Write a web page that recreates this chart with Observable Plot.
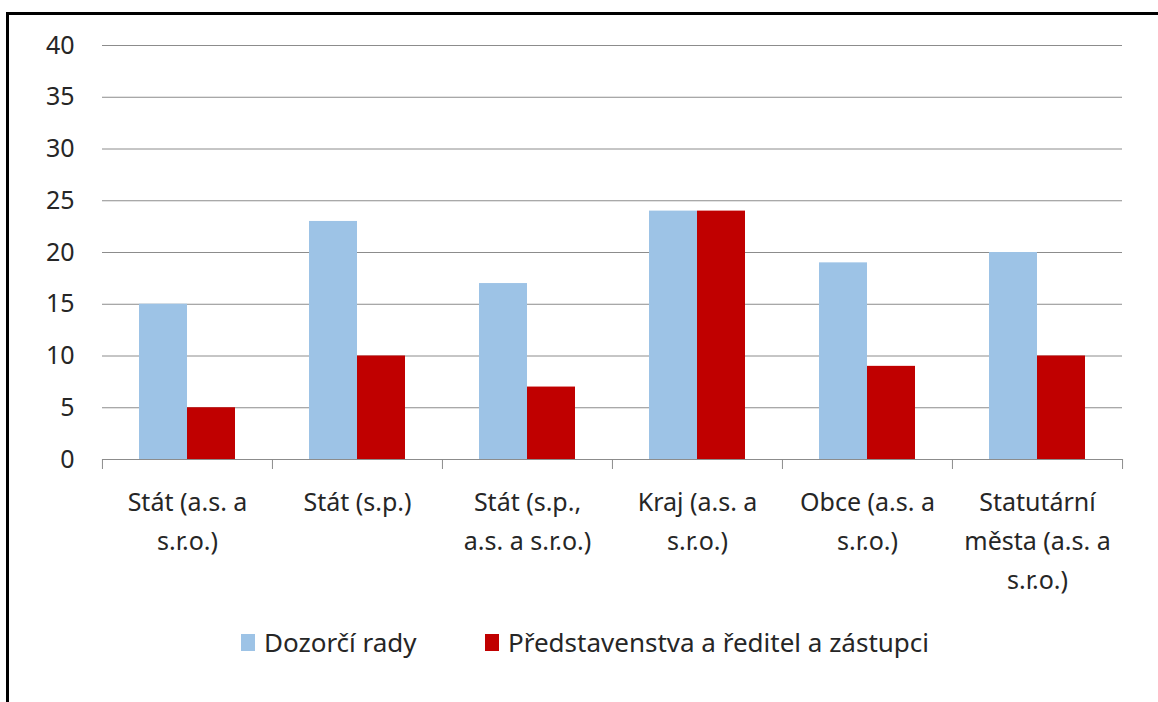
<!DOCTYPE html>
<html><head><meta charset="utf-8">
<script src="https://cdn.jsdelivr.net/npm/d3@7"></script>
<script src="https://cdn.jsdelivr.net/npm/@observablehq/plot@0.6"></script>
<style>
html,body{margin:0;padding:0;background:#fff;}
#wrap{position:relative;width:1158px;height:702px;overflow:hidden;font-family:"Noto Sans","Open Sans",sans-serif;color:#262626;}
#frame{position:absolute;left:6px;top:12px;width:1300px;height:900px;border-left:3px solid #000;border-top:3px solid #000;z-index:5;pointer-events:none;}
#chart{position:absolute;left:0;top:0;}
.lg{position:absolute;top:624px;display:flex;align-items:center;font-size:26px;white-space:nowrap;}
.sw{display:inline-block;width:14px;height:17px;margin-right:9px;}
</style>
</head><body>
<div id="wrap"><div id="frame"></div><div id="chart"></div></div>
<script>
const categories = ["Stát (a.s. a s.r.o.)","Stát (s.p.)","Stát (s.p., a.s. a s.r.o.)","Kraj (a.s. a s.r.o.)","Obce (a.s. a s.r.o.)","Statutární města (a.s. a s.r.o.)"];
const categoryTickLabels = ["Stát (a.s. a\ns.r.o.)","Stát (s.p.)","Stát (s.p.,\na.s. a s.r.o.)","Kraj (a.s. a\ns.r.o.)","Obce (a.s. a\ns.r.o.)","Statutární\nměsta (a.s. a\ns.r.o.)"];
const series = ["Dozorčí rady","Představenstva a ředitel a zástupci"];
const dozorciRady = [15,23,17,24,19,20];
const predstavenstva = [5,10,7,24,9,10];
const yTicks = [0,5,10,15,20,25,30,35,40];
const colors = ["#9DC3E6","#C00000"];

const table = [];
categories.forEach((c,i)=>{
  table.push({cat:c, series:series[0], value:dozorciRady[i]});
  table.push({cat:c, series:series[1], value:predstavenstva[i]});
});

const W=1158, H=610, mL=101, mR=36, mT=45, mB=151;
const plotW = W-mL-mR, plotH = H-mT-mB;
const step = plotW/categories.length;
const pOuter = 0.77;
const bw = step/(2+2*pOuter);
const off = pOuter*bw + bw/2;
const grid = "#8c8c8c";
const fs = 25;

const chart = Plot.plot({
  width:W, height:H, marginLeft:mL, marginRight:mR, marginTop:mT, marginBottom:mB,
  style:{fontFamily:'"Noto Sans","Open Sans",sans-serif', fontSize:fs+"px", color:"#262626", background:"transparent"},
  fx:{domain:categories, padding:0, label:null, axis:null},
  x:{domain:series, paddingInner:0, paddingOuter:pOuter, axis:null},
  y:{domain:[0,40], label:null, axis:null},
  color:{domain:series, range:colors},
  marks:[
    Plot.gridY(yTicks.filter(v=>v>0), {stroke:grid, strokeOpacity:1, strokeWidth:1}),
    Plot.axisY(yTicks, {tickSize:0, tickPadding:28, fontSize:fs, label:null, fill:"#262626"}),
    Plot.barY(table, {fx:"cat", x:"series", y:"value", fill:"series"}),
    Plot.ruleY([0], {stroke:grid, strokeWidth:1}),
    Plot.ruleX(categories, {fx:d=>d, x:()=>series[0], dx:-off, insetTop:plotH, insetBottom:-10, stroke:grid}),
    Plot.ruleX([categories[categories.length-1]], {fx:d=>d, x:()=>series[1], dx:off, insetTop:plotH, insetBottom:-10, stroke:grid}),
    Plot.axisFx({anchor:"bottom", tickSize:0, tickPadding:24, fontSize:fs, lineHeight:1.56, label:null, fill:"#262626",
      tickFormat:d=>categoryTickLabels[categories.indexOf(d)]})
  ]
});
document.getElementById("chart").appendChild(chart);

const wrap = document.getElementById("wrap");
const legendX = [241, 485];
series.forEach((s,i)=>{
  const d = document.createElement("div");
  d.className="lg"; d.style.left = legendX[i]+"px";
  const sw = document.createElement("span"); sw.className="sw"; sw.style.background=colors[i];
  const t = document.createElement("span"); t.textContent = s;
  d.appendChild(sw); d.appendChild(t); wrap.appendChild(d);
});
</script>
</body></html>
